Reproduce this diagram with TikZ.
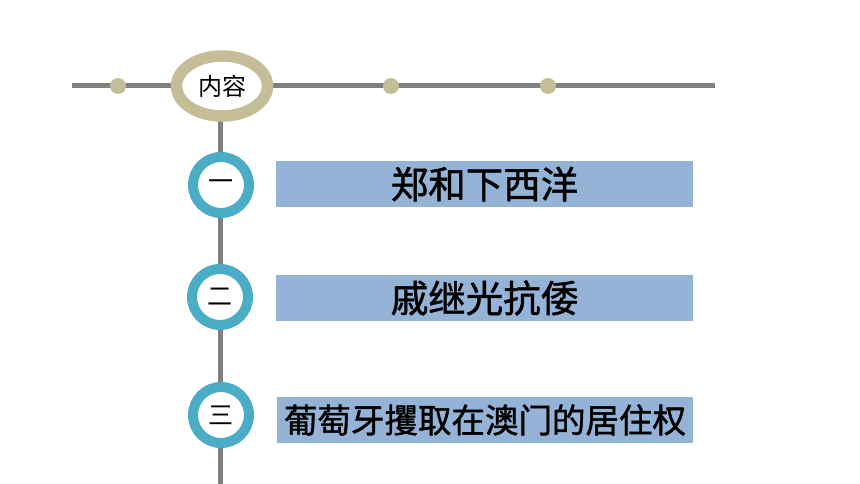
\documentclass[tikz,border=0pt]{standalone}
\usepackage{fontspec}
\usetikzlibrary{shapes.geometric}
\newfontfamily\cjk{Noto Sans CJK SC}
\newfontfamily\cjkb{Noto Sans CJK SC}[FakeBold=1.3]
\definecolor{lineg}{HTML}{808080}
\definecolor{khaki}{HTML}{C4BD97}
\definecolor{teal}{HTML}{4BACC6}
\definecolor{boxb}{HTML}{95B3D7}
\tikzset{
  rail/.style={draw=lineg, line width=5pt},
  dotk/.style={circle, fill=khaki, minimum size=16pt, inner sep=0pt},
  ring/.style={circle, draw=teal, line width=10pt, fill=white, minimum size=56pt, inner sep=0pt, font=\cjk\fontsize{25}{25}\selectfont},
  titlebox/.style={fill=boxb, minimum width=417pt, minimum height=46pt, inner sep=0pt, font=\cjkb\fontsize{37.5}{37.5}\selectfont},
}
\begin{document}
\begin{tikzpicture}[x=1pt,y=-1pt]
\useasboundingbox[fill=white] (0,0) rectangle (860,484);
\coordinate (hl) at (72,86);
\coordinate (hr) at (715,86);
\coordinate (vb) at (220,484);
\draw[rail] (hl) -- (hr);
\draw[rail] (220,86) -- (vb);
\node[dotk] (d1) at (118,86) {};
\node[dotk] (d2) at (391,86) {};
\node[dotk] (d3) at (548,86) {};
\node[ellipse, draw=khaki, line width=11.5pt, fill=white, minimum width=91pt, minimum height=60pt, inner sep=0pt, font=\cjk\fontsize{24}{24}\selectfont] (nr) at (222,86) {内容};
\node[ring] (c1) at (221,185) {一};
\node[ring] (c2) at (220,297) {二};
\node[ring] (c3) at (221,415) {三};
\node[titlebox] (b1) at (484.5,184) {郑和下西洋};
\node[titlebox] (b2) at (484.5,298) {戚继光抗倭};
\node[titlebox, minimum width=416pt, font=\cjkb\fontsize{33.5}{33.5}\selectfont] (b3) at (485,420) {葡萄牙攫取在澳门的居住权};
\end{tikzpicture}
\end{document}
